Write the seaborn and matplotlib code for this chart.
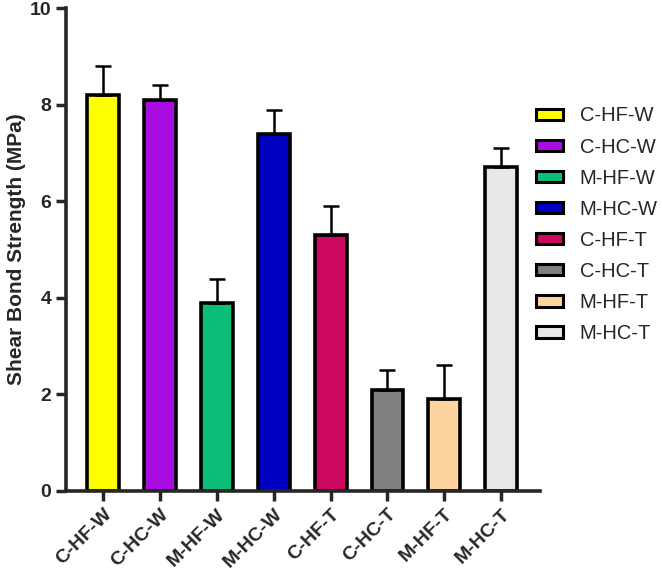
import numpy as np
import pandas as pd
import matplotlib
matplotlib.use('Agg')
import matplotlib.pyplot as plt
import seaborn as sns

groups = ['C-HF-W', 'C-HC-W', 'M-HF-W', 'M-HC-W', 'C-HF-T', 'C-HC-T', 'M-HF-T', 'M-HC-T']
strength = [8.2, 8.1, 3.9, 7.4, 5.3, 2.1, 1.9, 6.7]
sd = [0.6, 0.3, 0.5, 0.5, 0.6, 0.4, 0.7, 0.4]
colors = ['#FFFF00', '#A90DE0', '#0DBE78', '#0000C0', '#CC0860', '#808080', '#FDD3A0', '#E8E8E8']

df = pd.DataFrame({'group': groups, 'strength': strength})

sns.set_style('ticks')
plt.rcParams['font.family'] = ['Liberation Sans', 'DejaVu Sans']

fig = plt.figure(figsize=(6.62, 5.79), dpi=100)
ax = fig.add_axes([0.0997, 0.152, 0.716, 0.834])

sns.barplot(data=df, x='group', y='strength', hue='group', palette=colors,
            saturation=1, width=0.56, edgecolor='black', linewidth=2.6,
            dodge=False, legend=False, ax=ax)

# upward-only error bars
x = np.arange(len(groups))
ax.errorbar(x, strength, yerr=[np.zeros(len(sd)), sd], fmt='none',
            ecolor='black', elinewidth=1.8, capsize=6, capthick=1.8, zorder=1)

ax.set_xlim(-0.65, 7.68)
ax.set_ylim(0, 10)
ax.set_yticks([0, 2, 4, 6, 8, 10])
ax.set_xlabel('')
ax.set_ylabel('Shear Bond Strength (MPa)', fontsize=15, fontweight='bold', labelpad=3)
ax.tick_params(axis='both', width=2.5, length=7, labelsize=14)
for lab in ax.get_yticklabels():
    lab.set_fontweight('bold')
ax.set_xticks(x)
ax.set_xticklabels(groups, rotation=45, ha='right', rotation_mode='anchor',
                   fontweight='bold')
for s in ['left', 'bottom']:
    ax.spines[s].set_linewidth(2.6)
sns.despine(ax=ax)

handles = [plt.Rectangle((0, 0), 1, 1, facecolor=c, edgecolor='black', linewidth=2.2)
           for c in colors]
fig.legend(handles, groups, loc='upper left', bbox_to_anchor=(0.798, 0.83),
           borderaxespad=0, frameon=False, fontsize=14.5, handlelength=1.3,
           handleheight=0.5, labelspacing=0.6, handletextpad=0.85)

fig.savefig('out.png', dpi=100)
